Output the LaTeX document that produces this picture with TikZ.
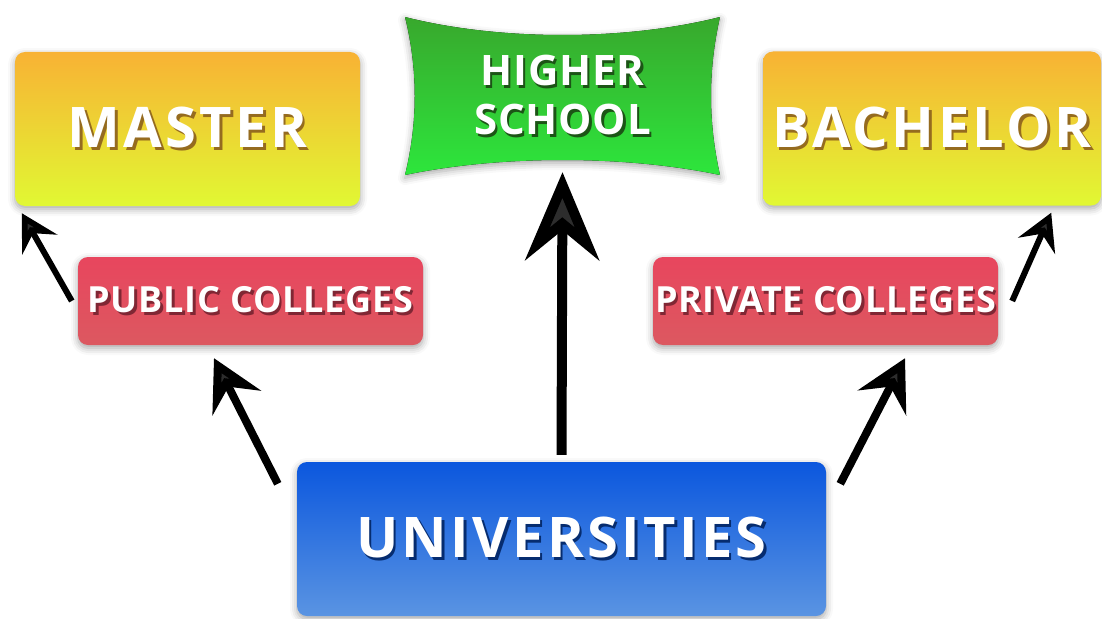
\documentclass[tikz,border=0pt]{standalone}
\usepackage{fontspec}
\setmainfont{Open Sans}
\newfontfamily\widefont[LetterSpace=6]{Open Sans}
\newfontfamily\narrowfont[LetterSpace=2]{Open Sans}
\usetikzlibrary{arrows.meta,shadows.blur}
\definecolor{mtop}{HTML}{F8B234}
\definecolor{mbot}{HTML}{E1F833}
\definecolor{gtop}{HTML}{38A82D}
\definecolor{gbot}{HTML}{2DE63C}
\definecolor{ctop}{HTML}{E8465E}
\definecolor{cbot}{HTML}{DC5860}
\definecolor{btop}{HTML}{0B57DE}
\definecolor{bbot}{HTML}{5A94E2}
\colorlet{mshade}{black!40!mtop}
\colorlet{gshade}{black!50!gtop}
\colorlet{cshade}{black!45!ctop}
\colorlet{bshade}{black!50!btop}
\newcommand{\shtext}[2]{\makebox[0pt][l]{\hspace{2.5pt}\raisebox{-3pt}{\textcolor{#1}{#2}}}#2}
\begin{document}
\begin{tikzpicture}[x=1pt,y=-1pt,
	box/.style={rounded corners=10pt, inner sep=0pt, text=white,
		blur shadow={shadow xshift=0pt, shadow yshift=-3pt, shadow blur radius=7pt, shadow opacity=35}},
	degree/.style={box, minimum height=154pt, top color=mtop, bottom color=mbot,
		font=\widefont\fontsize{56}{60}\selectfont\bfseries},
	college/.style={box, minimum width=345pt, minimum height=88pt, top color=ctop, bottom color=cbot,
		font=\narrowfont\fontsize{36}{40}\selectfont\bfseries},
	bigarrow/.style={line width=10pt, -{Stealth[length=88pt,width=74pt,inset=30pt]}},
	midarrow/.style={line width=8pt, -{Stealth[length=50pt,width=54pt,inset=18pt]}},
	smallarrow/.style={line width=6pt, -{Stealth[length=36pt,width=40pt,inset=13pt]}}]
	\useasboundingbox (0,0) rectangle (1102,618);

	\node[degree, minimum width=345pt] (master) at (187.5,129) {\shtext{mshade}{MASTER}};
	\node[degree, minimum width=338pt] (bachelor) at (932,128.5) {\shtext{mshade}{BACHELOR}};

	\fill[top color=gtop, bottom color=gbot,
		blur shadow={shadow xshift=0pt, shadow yshift=-3pt, shadow blur radius=7pt, shadow opacity=35}]
		(405,17) .. controls (500,41) and (625,41) .. (720,17)
		.. controls (708,70) and (708,122) .. (720,175)
		.. controls (625,155) and (500,155) .. (405,175)
		.. controls (418,122) and (418,70) .. (405,17) -- cycle;
	\node[align=center, text=white, inner sep=0pt, minimum width=315pt, minimum height=158pt,
		font=\narrowfont\fontsize{42}{49}\selectfont\bfseries] (higher) at (562.5,96)
		{\shtext{gshade}{HIGHER}\\\shtext{gshade}{SCHOOL}};

	\node[college] (public) at (250.5,301) {\shtext{cshade}{PUBLIC COLLEGES}};
	\node[college] (private) at (825.5,301) {\shtext{cshade}{PRIVATE COLLEGES}};

	\node[box, minimum width=529pt, minimum height=154pt, top color=btop, bottom color=bbot,
		font=\widefont\fontsize{56}{60}\selectfont\bfseries] (univ) at (561.5,539) {\shtext{bshade}{UNIVERSITIES}};

	\draw[bigarrow] ([yshift=7pt]univ.north) -- ([yshift=3pt]higher.south);
	\draw[midarrow] ([xshift=-19pt,yshift=-22pt]univ.north west) -- ([xshift=-36.5pt,yshift=-13pt]public.south);
	\draw[midarrow] ([xshift=14pt,yshift=-22pt]univ.north east) -- ([xshift=79.5pt,yshift=-13pt]private.south);
	\draw[smallarrow] ([xshift=-6pt]public.west) -- ([xshift=7pt,yshift=-7pt]master.south west);
	\draw[smallarrow] ([xshift=14pt]private.east) -- ([xshift=-50pt,yshift=-7pt]bachelor.south east);
\end{tikzpicture}
\end{document}
